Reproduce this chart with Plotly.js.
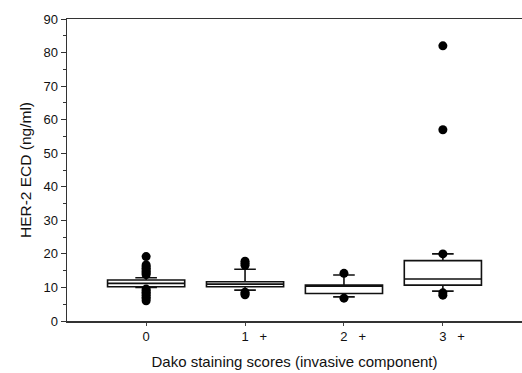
<!DOCTYPE html>
<html>
<head>
<meta charset="utf-8">
<script src="https://cdn.plot.ly/plotly-3.0.1.min.js"></script>
<style>html,body{margin:0;padding:0;background:#fff;}#chart{width:522px;height:373px;}</style>
</head>
<body>
<div id="chart"></div>
<script>
// Categories (Dako score) and tick labels
var scores = [0, 1, 2, 3];
var scoreLabels = ["0", "1 +", "2 +", "3 +"];

// Box statistics (ng/ml)
var q1 = [10.2, 10.2, 8.2, 10.7];
var medians = [11.2, 11.0, 10.4, 12.5];
var q3 = [12.2, 11.7, 10.7, 18.0];
var lowerWhisker = [10.0, 9.2, 7.2, 8.9];
var upperWhisker = [12.9, 15.4, 13.7, 20.0];

// Points outside the whiskers, per category
var outliers0 = [19.2, 16.7, 16.2, 15.7, 15.2, 14.7, 14.3, 13.8, 9.5, 9.0, 8.6, 8.1, 7.6, 7.1, 6.6, 6.0];
var outliers1 = [17.8, 17.2, 16.6, 8.6, 8.1, 7.8];
var outliers2 = [14.2, 6.8];
var outliers3 = [82.0, 57.0, 20.0, 8.4, 7.7];

var outlierSets = [outliers0, outliers1, outliers2, outliers3];
var ox = [], oy = [];
outlierSets.forEach(function (set, i) {
  set.forEach(function (v) { ox.push(scores[i]); oy.push(v); });
});

var tickText = scoreLabels.map(function (s) {
  var parts = s.split(" ");
  if (parts.length < 2) return s;
  return "<span style='color:rgba(255,255,255,0)'>" + parts[1] + "\u00a0\u00a0\u00a0</span>" + parts[0] + "\u00a0\u00a0\u00a0" + parts[1];
});

var boxTrace = {
  type: "box",
  x: scores,
  q1: q1,
  median: medians,
  q3: q3,
  lowerfence: lowerWhisker,
  upperfence: upperWhisker,
  width: 0.78,
  whiskerwidth: 0.28,
  fillcolor: "#ffffff",
  line: { color: "#111111", width: 1.6 },
  boxpoints: false,
  hoverinfo: "skip",
  showlegend: false
};

var pointTrace = {
  type: "scatter",
  mode: "markers",
  x: ox,
  y: oy,
  marker: { color: "#000000", size: 9 },
  hoverinfo: "skip",
  showlegend: false
};

var layout = {
  width: 522,
  height: 373,
  margin: { l: 67, r: 0, t: 19, b: 52 },
  paper_bgcolor: "#ffffff",
  plot_bgcolor: "#ffffff",
  font: { family: "Liberation Sans, Arial, sans-serif", color: "#111111", size: 13 },
  xaxis: {
    range: [-0.8, 3.8],
    tickmode: "array",
    tickvals: scores,
    ticktext: tickText,
    ticks: "outside",
    ticklen: 3,
    tickwidth: 1,
    tickcolor: "#444",
    showline: true,
    linecolor: "#333",
    linewidth: 1.5,
    mirror: true,
    showgrid: false,
    zeroline: false,
    tickfont: { size: 13, color: "#111111" },
    title: { text: "Dako staining scores (invasive component)", font: { size: 15, color: "#111111" }, standoff: 13 }
  },
  yaxis: {
    range: [0, 90],
    tickmode: "linear",
    tick0: 0,
    dtick: 10,
    ticks: "outside",
    ticklen: 5,
    tickwidth: 1,
    tickcolor: "#333",
    minor: { ticks: "outside", dtick: 5, ticklen: 3, tickcolor: "#333" },
    showline: true,
    linecolor: "#333",
    linewidth: 1.5,
    showgrid: false,
    zeroline: false,
    tickfont: { size: 13, color: "#111111" },
    title: { text: "HER-2 ECD (ng/ml)", font: { size: 15.5, color: "#111111" }, standoff: 8 }
  }
};

Plotly.newPlot("chart", [boxTrace, pointTrace], layout, { displayModeBar: false, staticPlot: true });
</script>
</body>
</html>
